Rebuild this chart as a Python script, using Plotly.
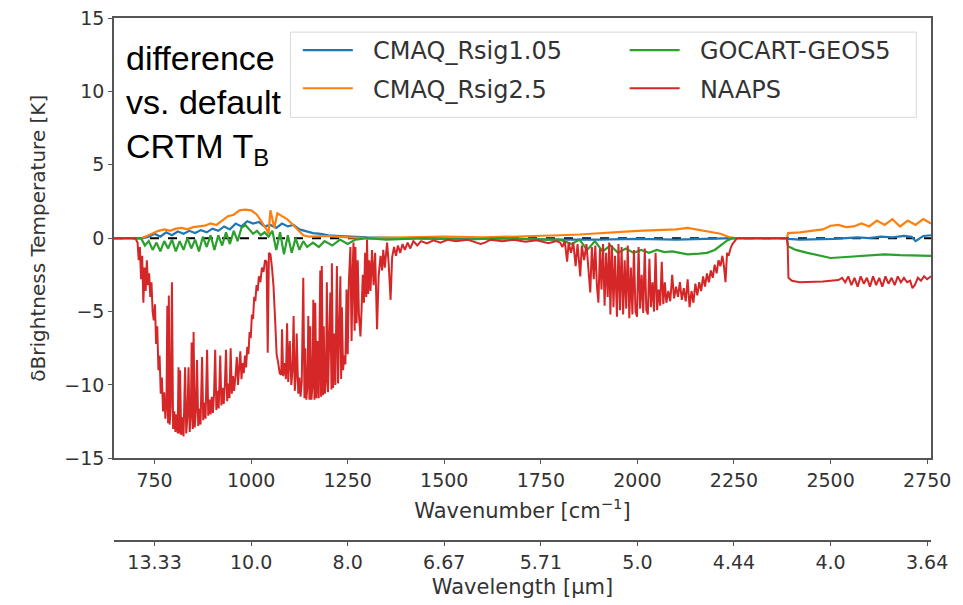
import plotly.graph_objects as go

# wavenumber ticks and the matching wavelength labels (um)
wn_ticks = [750, 1000, 1250, 1500, 1750, 2000, 2250, 2500, 2750]
wl_labels = ["13.33", "10.0", "8.0", "6.67", "5.71", "5.0", "4.44", "4.0", "3.64"]

rsig105_wn = [645, 720, 735, 750, 765, 780, 795, 810, 825, 840, 855, 870, 885, 900, 915,
              930, 945, 960, 975, 990, 1005, 1020, 1035, 1050, 1065, 1080, 1095, 1110, 1125,
              1140, 1160, 1180, 1200, 1230, 1260, 1300, 1400, 1500, 1600, 1700, 1800, 1900,
              2000, 2100, 2200, 2250, 2387, 2390, 2420, 2450, 2480, 2510, 2540, 2570, 2600,
              2630, 2660, 2690, 2710, 2720, 2740, 2760]
rsig105_dT = [0, 0, 0.1, 0.3, 0.1, 0.4, 0.2, 0.45, 0.3, 0.5, 0.35, 0.55, 0.4, 0.65, 0.5,
              0.8, 0.6, 1.0, 0.8, 1.15, 1.0, 1.1, 0.8, 0.9, 0.7, 1.0, 0.8, 0.9, 0.6,
              0.5, 0.35, 0.3, 0.2, 0.15, 0.1, 0.05, 0.0, -0.05, 0.0, -0.05, -0.1, -0.1,
              -0.05, -0.1, -0.05, 0, 0, -0.05, -0.1, -0.1, -0.05, -0.05, 0.0, 0.05, 0.0,
              0.1, 0.05, 0.15, 0.1, -0.2, 0.15, 0.2]

rsig25_wn = [645, 715, 730, 745, 760, 775, 790, 805, 820, 835, 850, 865, 880, 895, 910,
             925, 940, 955, 970, 985, 1000, 1015, 1030, 1040, 1045, 1050, 1060, 1068, 1080,
             1093, 1105, 1120, 1135, 1150, 1175, 1200, 1250, 1300, 1400, 1500, 1600, 1700,
             1750, 1800, 1850, 1900, 1950, 2000, 2050, 2100, 2130, 2160, 2190, 2215, 2235,
             2250, 2387, 2390, 2420, 2450, 2480, 2500, 2520, 2540, 2560, 2580, 2600, 2620,
             2640, 2660, 2680, 2700, 2720, 2740, 2760]
rsig25_dT = [0, 0, 0.15, 0.35, 0.5, 0.6, 0.5, 0.65, 0.7, 0.6, 0.75, 0.8, 0.85, 1.0, 0.9,
             1.2, 1.5, 1.6, 1.9, 1.95, 1.9, 1.6, 1.0, 0.6, 0.3, 1.9, 0.7, 1.7, 1.5,
             1.3, 1.0, 0.6, 0.2, 0.1, 0.1, 0.15, 0.05, 0.0, 0.05, 0.1, 0.05, 0.1,
             0.15, 0.2, 0.25, 0.35, 0.4, 0.5, 0.55, 0.6, 0.7, 0.55, 0.4, 0.3, 0.1,
             0.0, 0.0, 0.35, 0.4, 0.5, 0.6, 0.85, 0.9, 0.75, 0.8, 1.0, 0.8, 1.2,
             0.9, 1.3, 0.8, 1.2, 0.9, 1.3, 1.0, 1.2]

gocart_wn = [645, 715, 725, 735, 745, 755, 765, 775, 785, 795, 805, 815, 825, 835, 845,
             855, 865, 875, 885, 895, 905, 915, 925, 935, 945, 955, 965, 975, 985, 995,
             1005, 1015, 1025, 1035, 1045, 1055, 1065, 1075, 1085, 1095, 1105, 1115, 1125,
             1135, 1145, 1160, 1175, 1190, 1210, 1230, 1250, 1270, 1300, 1350, 1450, 1550,
             1650, 1750, 1800, 1830, 1850, 1870, 1890, 1910, 1930, 1950, 1970, 1990, 2010,
             2030, 2050, 2070, 2090, 2110, 2130, 2160, 2180, 2200, 2215, 2230, 2245, 2387,
             2390, 2410, 2440, 2470, 2500, 2530, 2560, 2600, 2640, 2680, 2720, 2760]
gocart_dT = [0, 0, -0.5, -0.2, -0.8, -0.3, -0.9, -0.2, -0.7, -0.1, -0.9, -0.2, -0.8, 0.0, -0.7,
             -0.1, -0.9, 0.1, -0.6, 0.2, -0.8, 0.2, -0.5, 0.4, -0.4, 0.5, -0.2, 0.7, 0.9, 0.6,
             0.3, 0.5, 0.2, 0.4, 0.1, 0.5, -0.8, 0.4, -1.1, 0.2, -1.0, 0.0, -0.8,
             -0.2, -0.6, -0.3, -0.6, -0.2, -0.5, -0.1, -0.4, -0.1, 0.0, -0.1, 0.0, -0.1,
             0.0, -0.1, -0.1, -0.4, -0.1, -0.8, -0.2, -0.9, -0.5, -1.0, -0.7, -1.0, -0.8,
             -1.0, -0.8, -0.95, -0.9, -1.0, -1.1, -1.05, -1.0, -0.8, -0.5, -0.2, 0, 0,
             -0.55, -0.8, -1.0, -1.2, -1.35, -1.3, -1.25, -1.15, -1.1, -1.15, -1.2, -1.2]

naaps_wn = [645, 700, 706, 709, 712, 715, 718, 721, 724, 727, 730, 733, 736, 739, 742, 745,
            748, 751, 754, 757, 760, 763, 766, 769, 772, 775, 778, 781, 783, 785, 787, 789,
            792, 795, 798, 801, 804, 807, 810, 812, 814, 816, 819, 822, 825, 829, 832, 835,
            838, 841, 844, 846, 849, 851, 854, 857, 860, 863, 866, 869, 873, 876, 879, 882,
            886, 889, 892, 895, 898, 901, 904, 907, 910, 913, 916, 920, 923, 926, 929, 932,
            935, 938, 941, 944, 947, 950, 953, 956, 960, 963, 966, 969, 972, 975, 978, 981,
            984, 987, 990, 993, 996, 999, 1002, 1005, 1008, 1011, 1014, 1017, 1020, 1024, 1028, 1032,
            1036, 1040, 1043, 1046, 1050, 1054, 1058, 1062, 1066, 1070, 1074,
            1078, 1080, 1083, 1087, 1090, 1093, 1096, 1100, 1104, 1107, 1110, 1113, 1116, 1118,
            1122, 1125, 1128, 1131, 1135, 1138, 1140, 1143, 1146, 1148, 1151, 1153, 1156, 1159,
            1161, 1164, 1166, 1169, 1172, 1175, 1179, 1181, 1183, 1186, 1188, 1191, 1194, 1196,
            1199, 1202, 1205, 1208, 1209, 1212, 1215, 1218, 1222, 1225, 1228, 1231, 1233, 1235,
            1238, 1241, 1244, 1247, 1250, 1253, 1257, 1260, 1263, 1265, 1268, 1270, 1273, 1276,
            1279, 1283, 1286, 1289, 1292, 1295, 1298, 1300, 1303, 1306, 1309, 1313, 1317, 1321,
            1326, 1330, 1335, 1339, 1342, 1346, 1352, 1356, 1361, 1365, 1370, 1375, 1380, 1386,
            1392, 1398, 1405, 1412, 1420, 1430, 1440, 1455, 1472, 1490, 1510, 1530, 1560, 1580,
            1594, 1605, 1620, 1650, 1680, 1710, 1740, 1770, 1790,
            1800, 1806, 1812, 1818, 1822, 1828, 1834, 1840, 1845, 1852, 1856, 1862, 1868, 1873,
            1878, 1882, 1887, 1891, 1895, 1899, 1903, 1907, 1911, 1915, 1919, 1923, 1927, 1930,
            1934, 1938, 1942, 1947, 1951, 1955, 1959, 1963, 1967, 1971, 1975, 1979, 1983, 1987,
            1991, 1995, 1999, 2003, 2007, 2011, 2015, 2019, 2023, 2027, 2031, 2035, 2039, 2043,
            2047, 2051, 2055, 2059, 2063, 2067, 2071, 2075, 2080, 2085, 2090, 2095, 2100, 2105,
            2110, 2115, 2120, 2125, 2130, 2135, 2140, 2145, 2150, 2155, 2160, 2165, 2170, 2175,
            2180, 2185, 2190, 2195, 2200, 2205, 2210, 2215, 2220, 2224, 2228, 2232, 2236, 2241,
            2246, 2252, 2258, 2387,
            2389, 2391, 2400, 2420, 2440, 2460, 2480, 2500, 2520, 2530, 2538, 2546, 2554, 2562,
            2570, 2578, 2586, 2594, 2602, 2610, 2618, 2626, 2634, 2642, 2650, 2658, 2666, 2674,
            2682, 2690, 2698, 2706, 2712, 2718, 2726, 2734, 2742, 2750, 2760]
naaps_dT = [0, 0, -0.3, -1.5, -0.6, -2.8, -1.2, -4.4, -2.0, -3.6, -1.5, -3.2, -2.4, -4.0, -3.0, -5.0,
            -5.6, -4.5, -7.2, -6.0, -9.0, -8.0, -10.6, -9.5, -11.8, -10.5, -12.3, -11.0, -4.6, -12.6, -3.9, -12.7,
            -11.5, -3.0, -13.0, -11.8, -13.2, -12.0, -13.3, -8.8, -13.3, -9.0, -13.4, -12.2, -13.5, -8.8, -13.3, -12.2,
            -8.8, -13.2, -12.0, -7.1, -13.0, -6.4, -12.9, -11.8, -8.3, -12.8, -11.6, -12.7, -8.1, -12.4, -11.2, -12.3,
            -7.6, -12.1, -11.0, -12.0, -10.8, -11.9, -10.6, -7.6, -11.7, -10.4, -11.6, -8.0, -11.4, -10.2, -11.3, -10.0,
            -7.6, -11.1, -9.9, -10.9, -7.5, -10.6, -9.4, -10.4, -9.2, -8.1, -10.0, -8.8, -7.7, -9.6, -8.5, -9.2,
            -8.0, -8.8, -7.4, -7.9, -6.4, -6.8, -5.2, -5.5, -4.0, -4.3, -3.2, -3.6, -2.6, -3.0, -2.0, -2.3,
            -1.5, -1.6, -7.8, -1.0, -1.1, -2.0, -3.3, -5.5, -7.9, -8.5, -9.2,
            -9.3, -6.2, -9.4, -8.5, -9.6, -5.8, -9.8, -7.0, -10.0, -9.0, -5.3, -10.4, -9.3, -6.5,
            -10.6, -9.5, -10.8, -9.8, -2.7, -10.9, -7.5, -11.0, -10.0, -5.3, -11.0, -6.0, -11.0, -10.0,
            -4.2, -11.0, -4.4, -10.9, -7.0, -10.9, -2.2, -10.8, -1.9, -10.7, -6.0, -10.6, -9.6, -3.0,
            -10.5, -5.5, -3.7, -10.3, -1.7, -10.2, -6.5, -10.0, -1.9, -9.9, -5.0, -2.6, -9.6, -4.7,
            -9.0, -8.0, -8.6, -3.5, -7.9, -3.0, -0.6, -7.0, -2.0, -0.3, -6.3, -0.6, -5.8, -1.5,
            -5.2, -6.7, -4.8, -2.5, -4.4, -1.0, -4.0, -0.1, -3.8, -1.5, -3.6, -0.8, -3.2, -1.0,
            -6.2, -2.6, -1.2, -2.2, -0.8, -2.0, -0.3, -1.7, -4.2, -1.3, -0.6, -1.2, -0.5, -1.0,
            -0.4, -0.8, -0.3, -0.7, -0.2, -0.5, -0.2, -0.35, -0.15, -0.3, -0.1, -0.2, -0.1, -0.25,
            -0.4, -0.3, -0.1, -0.2, -0.1, -0.25, -0.15, -0.35, -0.2,
            -0.3, -0.6, -0.2, -1.6, -0.3, -1.0, -0.3, -1.9, -0.4, -2.6, -0.5, -1.5, -0.4, -2.2,
            -3.7, -0.6, -2.8, -0.5, -3.2, -4.4, -0.7, -3.5, -0.4, -4.6, -1.0, -4.0, -0.3, -5.2,
            -0.5, -4.7, -1.2, -5.35, -0.4, -4.9, -0.6, -5.2, -1.5, -4.8, -0.5, -5.45, -2.0, -5.2,
            -0.8, -5.0, -5.35, -0.6, -4.8, -2.5, -5.1, -0.7, -4.9, -5.2, -1.4, -4.7, -3.0, -5.0,
            -1.0, -4.9, -3.5, -4.6, -1.6, -4.5, -3.0, -4.4, -3.6, -4.3, -2.5, -4.1, -3.3, -4.0,
            -3.0, -4.2, -3.4, -4.3, -2.8, -4.7, -3.6, -4.4, -3.1, -3.9, -3.0, -3.6, -2.6, -3.3,
            -2.4, -3.0, -2.2, -2.7, -1.8, -2.4, -1.5, -1.9, -1.2, -1.9, -3.0, -1.0, -1.2, -0.7,
            -0.4, -0.2, 0.0, 0.0,
            -0.5, -2.7, -2.9, -3.0, -3.0, -3.0, -2.95, -2.9, -2.85, -2.7, -3.0, -2.6, -3.2, -2.7,
            -3.3, -2.6, -3.1, -2.7, -3.3, -2.6, -3.2, -2.7, -3.3, -2.6, -3.1, -2.7, -3.2, -2.6,
            -3.0, -2.7, -3.0, -2.9, -3.4, -3.2, -2.7, -2.9, -2.6, -2.8, -2.6]

series = [
    ("CMAQ_Rsig1.05", rsig105_wn, rsig105_dT, "#1f77b4", "legend", 2.2),
    ("CMAQ_Rsig2.5", rsig25_wn, rsig25_dT, "#ff7f0e", "legend", 2.2),
    ("GOCART-GEOS5", gocart_wn, gocart_dT, "#2ca02c", "legend2", 2.2),
    ("NAAPS", naaps_wn, naaps_dT, "#d62728", "legend2", 2.0),
]

fig = go.Figure()

for name, x, y, color, leg, lw in series:
    fig.add_trace(go.Scatter(
        x=x, y=y, mode="lines", name="\u00a0\u00a0" + name, legend=leg, legendgroup=name,
        line=dict(color=color, width=lw),
    ))

# carrier trace for the wavelength axis
fig.add_trace(go.Scatter(x=wn_ticks, y=[None] * len(wn_ticks), xaxis="x2",
                         showlegend=False, hoverinfo="skip"))

fig.add_hline(y=0, line=dict(color="black", width=2, dash="dash"), layer="below")

fig.add_annotation(
    text="difference<br>vs. default<br>CRTM T<sub>B</sub>",
    xref="x domain", yref="y domain", x=0.012, y=0.956,
    xanchor="left", yanchor="top", align="left", showarrow=False,
    font=dict(family="Liberation Sans, Arial", size=34, color="black"),
)

# legend frame
fig.add_shape(type="rect", xref="paper", yref="paper",
              x0=0.216, x1=0.982, y0=0.81, y1=0.973,
              line=dict(color="#d8d8d8", width=1), fillcolor="rgba(255,255,255,0.8)")

axis_font = dict(family="DejaVu Sans", size=19, color="#333")
leg_common = dict(bgcolor="rgba(0,0,0,0)", borderwidth=0, tracegroupgap=4,
                  font=dict(family="DejaVu Sans", size=24, color="#333"),
                  yanchor="top", xanchor="left", itemwidth=50)

# the page body adds an 8 px offset, so the figure is drawn 8 px smaller
fig.update_layout(
    width=955, height=597, autosize=False,
    margin=dict(l=106, r=32, t=10, b=64),
    paper_bgcolor="white", plot_bgcolor="white",
    showlegend=True,
    legend=dict(x=0.225, y=0.981, **leg_common),
    legend2=dict(x=0.625, y=0.981, **leg_common),
    xaxis=dict(range=[645, 2760], tickvals=wn_ticks, showgrid=False, zeroline=False,
               showline=True, mirror=True, linecolor="#555", linewidth=1.5, automargin=False,
               ticks="outside", ticklen=4, tickcolor="#555", tickfont=axis_font,
               ticklabeloverflow="allow",
               title=dict(text="Wavenumber [cm<sup>−1</sup>]", standoff=13,
                          font=dict(family="DejaVu Sans", size=21, color="#333"))),
    xaxis2=dict(overlaying="x", anchor="free", position=0, side="bottom",
                range=[645, 2760], tickvals=wn_ticks, ticktext=wl_labels, automargin=False,
                showgrid=False, zeroline=False, showline=True, linecolor="#555", linewidth=1.5,
                ticks="outside", ticklen=4, tickcolor="#555", tickfont=axis_font,
                ticklabeloverflow="allow",
                title=dict(text="Wavelength [μm]", standoff=7,
                           font=dict(family="DejaVu Sans", size=21, color="#333"))),
    yaxis=dict(domain=[0.158, 1], range=[-15, 15], dtick=5, showgrid=False, zeroline=False,
               showline=True, mirror=True, linecolor="#555", linewidth=1.5, automargin=False,
               ticks="outside", ticklen=4, tickcolor="#555", tickfont=axis_font,
               ticklabeloverflow="allow",
               title=dict(text="δBrightness Temperature [K]", standoff=13,
                          font=dict(family="DejaVu Sans", size=20, color="#333"))),
)

fig.write_html("out.html")
